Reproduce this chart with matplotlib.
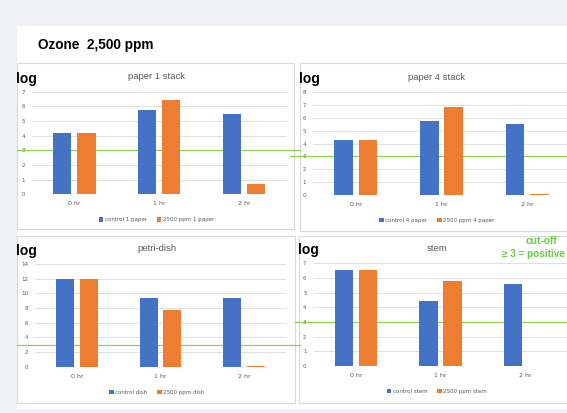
import numpy as np
import matplotlib
matplotlib.use('Agg')
import matplotlib.pyplot as plt
from matplotlib.patches import Rectangle

hours = ['0 hr', '1 hr', '2 hr']
paper1_control = [4.2, 5.75, 5.45]
paper1_ozone = [4.2, 6.4, 0.73]
paper4_control = [4.25, 5.8, 5.5]
paper4_ozone = [4.25, 6.85, 0.08]
dish_control = [11.9, 9.35, 9.35]
dish_ozone = [11.9, 7.7, 0.14]
stem_control = [6.57, 4.4, 5.6]
stem_ozone = [6.57, 5.82, 0.0]
cutoff = 3

BLUE = '#4472c4'
ORANGE = '#ed7d31'
GREEN = '#92d050'
GRAY = '#595959'

W, H = 567, 413
fig = plt.figure(figsize=(W / 100, H / 100), dpi=100)
fig.patch.set_facecolor('#eff1f4')


def box(l, t, r, b, **kw):
    fig.patches.append(Rectangle((l / W, 1 - b / H), (r - l) / W, (b - t) / H,
                                 transform=fig.transFigure, zorder=-5, **kw))


def rect(l, t, r, b):
    return [l / W, 1 - b / H, (r - l) / W, (b - t) / H]


# slide background
box(17, 26, 570, 409, facecolor='white', edgecolor='none')
fig.text(38 / W, 1 - 45 / H, 'Ozone  2,500 ppm', fontsize=9.8, fontweight='bold',
         family='Liberation Sans', va='center', ha='left')

# (title, control, ozone, control label, ozone label, ymax, step,
#  axes px, panel px, green line extent in axes fraction)
panels = [
    ('paper 1 stack', paper1_control, paper1_ozone, 'control 1 paper', '2500 ppm 1 paper',
     7, 1, (32, 91.7, 286.5, 194.3), (17, 63, 294, 229), (-0.06, 1.053)),
    ('paper 4 stack', paper4_control, paper4_ozone, 'control 4 paper', '2500 ppm 4 paper',
     8, 1, (313, 92.3, 570, 195), (300, 63, 572, 231), (-0.09, 1.0)),
    ('petri-dish', dish_control, dish_ozone, 'control dish', '2500 ppm dish',
     14, 2, (35, 264, 286, 366.7), (17, 236, 295, 403), (-0.072, 1.056)),
    ('stem', stem_control, stem_ozone, 'control stem', '2500 ppm stem',
     7, 1, (313.5, 263.3, 567.5, 366), (299, 236, 572, 403), (-0.073, 1.0)),
]

for title, ctrl, ozo, lab_c, lab_o, ymax, step, apx, ppx, gl in panels:
    box(*ppx, facecolor='white', edgecolor='#d9d9d9', lw=0.8)
    ax = fig.add_axes(rect(*apx))
    ax.patch.set_alpha(0)
    x = np.arange(len(hours))
    b1 = ax.bar(x - 0.142, ctrl, 0.215, color=BLUE, zorder=3, label=lab_c)
    b2 = ax.bar(x + 0.142, ozo, 0.215, color=ORANGE, zorder=3, label=lab_o)
    ax.set_xlim(-0.5, 2.5)
    ax.set_ylim(0, ymax)
    ax.set_yticks(np.arange(0, ymax + 1, step))
    ax.set_xticks(x)
    ax.set_xticklabels(hours)
    ax.grid(axis='y', color='#d9d9d9', lw=0.6, zorder=0)
    ax.set_axisbelow(True)
    for s in ax.spines.values():
        s.set_visible(False)
    ax.tick_params(axis='y', length=0, labelsize=4, colors=GRAY, pad=5)
    ax.tick_params(axis='x', length=0, labelsize=4.5, colors=GRAY, pad=5)
    ax.axhline(cutoff, gl[0], gl[1], color=GREEN, lw=0.9, clip_on=False, zorder=2)

    cx = (ppx[0] + min(ppx[2], 567)) / 2 + 1
    if ppx[0] > 290:
        cx = 437
    fig.text(cx / W, 1 - (apx[1] - 15) / H, title, fontsize=6.8, color=GRAY,
             family='Liberation Sans', ha='center', va='center')
    fig.text((ppx[0] - 1) / W, 1 - (apx[1] - 13) / H, 'log', fontsize=10,
             fontweight='bold', family='Liberation Sans', ha='left', va='center')
    ax.legend(handles=[b1, b2], loc='center', ncol=2, frameon=False,
              bbox_to_anchor=(cx / W, 1 - (apx[3] + 25.5) / H),
              bbox_transform=fig.transFigure, fontsize=4, labelcolor=GRAY,
              handlelength=0.8, handleheight=0.8, handletextpad=0.3,
              columnspacing=1.8, borderpad=0)

fig.text(541 / W, 1 - 241.5 / H, 'cut-off', fontsize=7.4, fontweight='bold',
         color='#66cc44', family='Liberation Sans', ha='center', va='center')
fig.text(565 / W, 1 - 254 / H, '≥ 3 = positive', fontsize=7.2, fontweight='bold',
         color='#66cc44', family='Liberation Sans', ha='right', va='center')

box(0, 409, 567, 413, facecolor='#eff1f4', edgecolor='none')

fig.savefig('out.png', dpi=100, facecolor=fig.get_facecolor())
